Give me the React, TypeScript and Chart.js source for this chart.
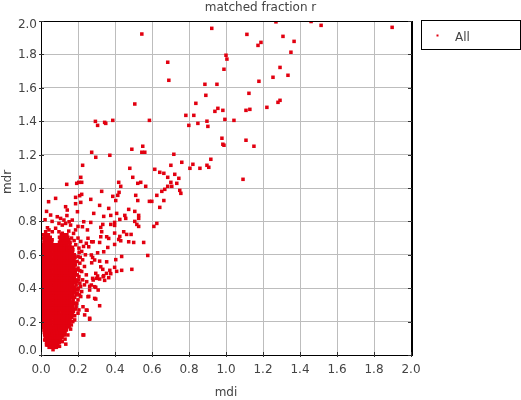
import React, { useEffect, useRef } from "react";
import { Chart, registerables } from "chart.js";

Chart.register(...registerables);

const chartTitle = "matched fraction r";
const xAxisTitle = "mdi";
const yAxisTitle = "mdr";
const seriesName = "All";
const xTickValues = [0, 0.2, 0.4, 0.6, 0.8, 1.0, 1.2, 1.4, 1.6, 1.8, 2.0];
const yTickValues = [0, 0.2, 0.4, 0.6, 0.8, 1.0, 1.2, 1.4, 1.6, 1.8, 2.0];

// sparse points with mdr above ~1.0
const upperPoints: [number, number][] = [
  [0.545, 1.922], [0.923, 1.956], [1.27, 1.995], [1.46, 1.997], [1.514, 1.974], [1.898, 1.962],
  [1.113, 1.92], [1.308, 1.908], [1.368, 1.878], [1.189, 1.872], [1.173, 1.854], [1.351, 1.813],
  [1.0, 1.795], [1.005, 1.772], [0.685, 1.753], [1.292, 1.722], [0.989, 1.711], [1.335, 1.675],
  [1.254, 1.663], [0.691, 1.645], [1.178, 1.639], [0.886, 1.621], [0.951, 1.621], [1.124, 1.567],
  [0.891, 1.555], [0.837, 1.507], [1.292, 1.525], [1.281, 1.513], [1.221, 1.483], [0.956, 1.477],
  [0.983, 1.465], [0.94, 1.459], [1.129, 1.471], [1.108, 1.465], [0.783, 1.435], [0.826, 1.435],
  [0.586, 1.405], [0.994, 1.411], [1.043, 1.405], [0.897, 1.4], [0.848, 1.387], [0.799, 1.375],
  [0.902, 1.369], [1.108, 1.286], [1.151, 1.25], [0.978, 1.298], [0.983, 1.262], [0.989, 1.256],
  [0.718, 1.202], [0.918, 1.172], [0.761, 1.154], [0.615, 1.112], [0.642, 1.094], [0.702, 1.136],
  [0.821, 1.142], [0.805, 1.118], [0.859, 1.118], [0.897, 1.136], [0.907, 1.124], [0.723, 1.082],
  [0.685, 1.064], [0.745, 1.058], [0.734, 1.028], [1.092, 1.052], [0.507, 1.503], [0.294, 1.399],
  [0.306, 1.375], [0.344, 1.393], [0.35, 1.387], [0.388, 1.405], [0.274, 1.214], [0.296, 1.184],
  [0.372, 1.196], [0.225, 1.136], [0.491, 1.232], [0.55, 1.25], [0.545, 1.214], [0.561, 1.214],
  [0.48, 1.118], [0.496, 1.064], [0.215, 1.064], [0.204, 1.034], [0.22, 1.034], [0.193, 1.028],
  [0.139, 1.022], [0.42, 1.034], [0.523, 1.028], [0.539, 1.034], [0.664, 1.088],
];

// sparse points between the core and mdr ~1.0
const middlePoints: [number, number][] = [
  [0.431, 1.01], [0.566, 1.01], [0.702, 1.034], [0.685, 1.01], [0.707, 1.01], [0.22, 0.962],
  [0.328, 0.98], [0.653, 0.98], [0.669, 0.992], [0.626, 0.956], [0.512, 0.956], [0.422, 0.974],
  [0.415, 0.956], [0.388, 0.95], [0.079, 0.938], [0.187, 0.944], [0.269, 0.932], [0.75, 0.986],
  [0.756, 0.968], [0.404, 0.925], [0.523, 0.925], [0.586, 0.92], [0.599, 0.92], [0.664, 0.925],
  [0.642, 0.884], [0.317, 0.896], [0.366, 0.878], [0.474, 0.872], [0.507, 0.86], [0.285, 0.848],
  [0.339, 0.83], [0.377, 0.836], [0.409, 0.848], [0.453, 0.836], [0.528, 0.836], [0.528, 0.818],
  [0.426, 0.812], [0.398, 0.794], [0.398, 0.776], [0.507, 0.8], [0.518, 0.782], [0.528, 0.77],
  [0.61, 0.77], [0.626, 0.788], [0.269, 0.794], [0.334, 0.782], [0.323, 0.764], [0.209, 0.954],
  [0.041, 0.918], [0.187, 0.906], [0.215, 0.914], [0.231, 0.798], [0.377, 0.782], [0.458, 0.818],
  [0.328, 0.738], [0.323, 0.708], [0.355, 0.708], [0.366, 0.698], [0.398, 0.73], [0.447, 0.738],
  [0.463, 0.722], [0.426, 0.71], [0.42, 0.692], [0.431, 0.684], [0.487, 0.722], [0.474, 0.678],
  [0.501, 0.674], [0.555, 0.674], [0.317, 0.674], [0.258, 0.648], [0.274, 0.678], [0.306, 0.612],
  [0.339, 0.618], [0.361, 0.644], [0.398, 0.662], [0.436, 0.59], [0.577, 0.596], [0.279, 0.584],
  [0.317, 0.562], [0.274, 0.552], [0.355, 0.558], [0.323, 0.528], [0.334, 0.513], [0.404, 0.571],
  [0.398, 0.525], [0.372, 0.507], [0.377, 0.487], [0.491, 0.513], [0.409, 0.501], [0.436, 0.507],
  [0.306, 0.473], [0.317, 0.455], [0.279, 0.459], [0.296, 0.489], [0.247, 0.439], [0.339, 0.475],
  [0.344, 0.447], [0.366, 0.463], [0.296, 0.405], [0.263, 0.411], [0.258, 0.351], [0.296, 0.335],
  [0.317, 0.295], [0.249, 0.268], [0.263, 0.214], [0.231, 0.12],
  [0.133, 0.888], [0.142, 0.868], [0.197, 0.858], [0.088, 0.828], [0.106, 0.818], [0.124, 0.808],
  [0.152, 0.798], [0.169, 0.808], [0.097, 0.788], [0.115, 0.778], [0.133, 0.788], [0.16, 0.778],
  [0.187, 0.749], [0.224, 0.768], [0.251, 0.749], [0.025, 0.738], [0.043, 0.749], [0.061, 0.738],
  [0.079, 0.759], [0.097, 0.738], [0.115, 0.729], [0.052, 0.838], [0.035, 0.762], [0.2, 0.77],
  [0.14, 0.835], [0.03, 0.86], [0.06, 0.8], [0.022, 0.81],
];

// points fringing the right side of the dense core
const fringePoints: [number, number][] = [
  [0.254, 0.699], [0.245, 0.669], [0.282, 0.678], [0.272, 0.599], [0.29, 0.569], [0.354, 0.489],
  [0.3, 0.459], [0.336, 0.469], [0.282, 0.449], [0.272, 0.419], [0.29, 0.409], [0.263, 0.389],
  [0.309, 0.389], [0.254, 0.349], [0.29, 0.339], [0.245, 0.269], [0.227, 0.289], [0.263, 0.22],
  [0.164, 0.18], [0.227, 0.12], [0.2, 0.25], [0.236, 0.24], [0.182, 0.31], [0.2, 0.7],
  [0.215, 0.68], [0.23, 0.65], [0.205, 0.64], [0.22, 0.62], [0.24, 0.6], [0.2, 0.59],
  [0.225, 0.57], [0.21, 0.55], [0.235, 0.53], [0.2, 0.52], [0.22, 0.5], [0.245, 0.48],
  [0.205, 0.47], [0.225, 0.45], [0.21, 0.43], [0.235, 0.42], [0.2, 0.4], [0.22, 0.38],
  [0.215, 0.35], [0.2, 0.33], [0.19, 0.29], [0.205, 0.27], [0.195, 0.56], [0.196, 0.48],
  [0.194, 0.44], [0.197, 0.37], [0.182, 0.21], [0.175, 0.26], [0.16, 0.155], [0.145, 0.12],
  [0.13, 0.095], [0.065, 0.032], [0.115, 0.08], [0.188, 0.66], [0.179, 0.685], [0.165, 0.7],
  [0.176, 0.728], [0.15, 0.742], [0.01, 0.7], [0.012, 0.72], [0.182, 0.235], [0.172, 0.2],
  [0.152, 0.172], [0.206, 0.615], [0.212, 0.585], [0.21, 0.505], [0.214, 0.41], [0.208, 0.36],
  [0.193, 0.31], [0.185, 0.275], [0.134, 0.065], [0.1, 0.052], [0.03, 0.06], [0.02, 0.09],
];

// dense core: each row is [mdr, mdi, mdi, ...]
const coreRows: number[][] = [
  [0.046, 0.044, 0.058, 0.072, 0.083],
  [0.06, 0.036, 0.05, 0.064, 0.078, 0.091],
  [0.075, 0.03, 0.044, 0.058, 0.072, 0.086, 0.099],
  [0.09, 0.026, 0.04, 0.054, 0.068, 0.082, 0.096, 0.106],
  [0.105, 0.023, 0.037, 0.051, 0.065, 0.079, 0.093, 0.107, 0.114],
  [0.12, 0.02, 0.034, 0.048, 0.062, 0.076, 0.09, 0.104, 0.118, 0.126],
  [0.135, 0.018, 0.032, 0.046, 0.06, 0.074, 0.088, 0.102, 0.116, 0.13],
  [0.15, 0.016, 0.03, 0.044, 0.058, 0.072, 0.086, 0.1, 0.114, 0.128, 0.137],
  [0.165, 0.014, 0.028, 0.042, 0.056, 0.07, 0.084, 0.098, 0.112, 0.126, 0.14],
  [0.18, 0.012, 0.026, 0.041, 0.055, 0.07, 0.084, 0.099, 0.113, 0.128, 0.142, 0.15],
  [0.195, 0.012, 0.026, 0.041, 0.055, 0.07, 0.084, 0.099, 0.113, 0.128, 0.142, 0.155],
  [0.21, 0.012, 0.026, 0.041, 0.055, 0.07, 0.084, 0.099, 0.113, 0.128, 0.142, 0.157],
  [0.225, 0.012, 0.026, 0.041, 0.055, 0.07, 0.084, 0.099, 0.113, 0.128, 0.142, 0.157, 0.166],
  [0.24, 0.012, 0.027, 0.041, 0.056, 0.07, 0.085, 0.099, 0.114, 0.128, 0.143, 0.157, 0.168],
  [0.255, 0.012, 0.026, 0.04, 0.055, 0.069, 0.084, 0.098, 0.113, 0.127, 0.142, 0.156, 0.168],
  [0.27, 0.012, 0.027, 0.041, 0.056, 0.07, 0.085, 0.099, 0.114, 0.128, 0.143, 0.157, 0.17],
  [0.285, 0.012, 0.026, 0.041, 0.055, 0.07, 0.084, 0.099, 0.113, 0.128, 0.142, 0.157, 0.171],
  [0.3, 0.012, 0.027, 0.041, 0.056, 0.07, 0.085, 0.099, 0.114, 0.128, 0.143, 0.157, 0.172],
  [0.315, 0.012, 0.026, 0.041, 0.055, 0.07, 0.084, 0.099, 0.113, 0.128, 0.142, 0.157, 0.172],
  [0.33, 0.012, 0.027, 0.041, 0.056, 0.07, 0.085, 0.099, 0.114, 0.128, 0.143, 0.157, 0.174],
  [0.345, 0.012, 0.026, 0.041, 0.055, 0.07, 0.084, 0.099, 0.113, 0.128, 0.142, 0.157, 0.171, 0.182],
  [0.36, 0.012, 0.027, 0.041, 0.056, 0.07, 0.085, 0.099, 0.114, 0.128, 0.143, 0.157, 0.172, 0.19],
  [0.375, 0.012, 0.026, 0.041, 0.055, 0.07, 0.084, 0.099, 0.113, 0.128, 0.142, 0.157, 0.171, 0.18],
  [0.39, 0.012, 0.027, 0.041, 0.056, 0.07, 0.085, 0.099, 0.114, 0.128, 0.143, 0.157, 0.172, 0.186, 0.2],
  [0.405, 0.012, 0.026, 0.041, 0.055, 0.07, 0.084, 0.099, 0.113, 0.128, 0.142, 0.157, 0.171, 0.183],
  [0.42, 0.012, 0.027, 0.041, 0.056, 0.07, 0.085, 0.099, 0.114, 0.128, 0.143, 0.157, 0.172, 0.19],
  [0.435, 0.012, 0.026, 0.041, 0.055, 0.07, 0.084, 0.099, 0.113, 0.128, 0.142, 0.157, 0.171, 0.184],
  [0.45, 0.012, 0.027, 0.041, 0.056, 0.07, 0.085, 0.099, 0.114, 0.128, 0.143, 0.157, 0.172, 0.186, 0.204],
  [0.465, 0.012, 0.026, 0.041, 0.055, 0.07, 0.084, 0.099, 0.113, 0.128, 0.142, 0.157, 0.171, 0.18],
  [0.48, 0.012, 0.027, 0.041, 0.056, 0.07, 0.085, 0.099, 0.114, 0.128, 0.143, 0.157, 0.172, 0.188],
  [0.495, 0.012, 0.026, 0.041, 0.055, 0.07, 0.084, 0.099, 0.113, 0.128, 0.142, 0.157, 0.171, 0.185],
  [0.51, 0.012, 0.027, 0.041, 0.056, 0.07, 0.085, 0.099, 0.114, 0.128, 0.143, 0.157, 0.172, 0.183, 0.198],
  [0.525, 0.012, 0.026, 0.041, 0.055, 0.07, 0.084, 0.099, 0.113, 0.128, 0.142, 0.157, 0.171, 0.179],
  [0.54, 0.012, 0.027, 0.041, 0.056, 0.07, 0.085, 0.099, 0.114, 0.128, 0.143, 0.157, 0.172, 0.186],
  [0.555, 0.012, 0.026, 0.041, 0.055, 0.07, 0.084, 0.099, 0.113, 0.128, 0.142, 0.157, 0.171, 0.181],
  [0.57, 0.013, 0.027, 0.041, 0.056, 0.07, 0.085, 0.099, 0.114, 0.128, 0.143, 0.157, 0.172, 0.179],
  [0.585, 0.013, 0.026, 0.041, 0.055, 0.07, 0.084, 0.099, 0.113, 0.128, 0.142, 0.157, 0.171, 0.184],
  [0.6, 0.013, 0.027, 0.041, 0.056, 0.07, 0.085, 0.099, 0.114, 0.128, 0.143, 0.157, 0.172, 0.18],
  [0.615, 0.014, 0.026, 0.041, 0.055, 0.07, 0.084, 0.099, 0.113, 0.128, 0.142, 0.157, 0.17],
  [0.63, 0.014, 0.028, 0.042, 0.056, 0.07, 0.084, 0.098, 0.112, 0.126, 0.14, 0.155, 0.172],
  [0.645, 0.014, 0.028, 0.042, 0.056, 0.07, 0.084, 0.098, 0.112, 0.126, 0.14, 0.155, 0.17],
  [0.66, 0.015, 0.029, 0.043, 0.057, 0.071, 0.085, 0.099, 0.113, 0.127, 0.141, 0.156],
  [0.675, 0.016, 0.03, 0.044, 0.058, 0.1, 0.114, 0.128, 0.142, 0.157],
  [0.69, 0.018, 0.032, 0.046, 0.06, 0.105, 0.12, 0.134, 0.15],
  [0.705, 0.02, 0.034, 0.05, 0.1, 0.115, 0.13, 0.145],
  [0.72, 0.024, 0.04, 0.11, 0.125, 0.14],
];

const pointColor = "rgb(226, 0, 16)";
const textColor = "#444444";
const gridColor = "#bdbdbd";
const fontFamily = '"DejaVu Sans", sans-serif';

const decorPlugin = {
  id: "decor",
  afterDraw(chart: any) {
    const { ctx, chartArea: a, scales } = chart;
    const xs = scales.x;
    const ys = scales.y;
    ctx.save();

    // plot outline
    ctx.strokeStyle = "#000";
    ctx.lineWidth = 1;
    ctx.strokeRect(a.left + 0.5, a.top + 0.5, a.right - a.left, a.bottom - a.top);
    ctx.beginPath();
    ctx.moveTo(a.right + 1.5, a.top);
    ctx.lineTo(a.right + 1.5, a.bottom + 1);
    ctx.stroke();

    // tick marks
    ctx.strokeStyle = "#333";
    ctx.beginPath();
    yTickValues.forEach((v) => {
      const py = Math.round(ys.getPixelForValue(v)) + 0.5;
      ctx.moveTo(a.left - 2, py);
      ctx.lineTo(a.left + 3, py);
      ctx.moveTo(a.right - 3, py);
      ctx.lineTo(a.right + 1, py);
    });
    xTickValues.forEach((v) => {
      const px = Math.round(xs.getPixelForValue(v)) + 0.5;
      ctx.moveTo(px, a.bottom - 3);
      ctx.lineTo(px, a.bottom + 2);
    });
    ctx.stroke();

    // tick labels
    ctx.font = `12px ${fontFamily}`;
    ctx.fillStyle = textColor;
    ctx.textBaseline = "alphabetic";
    ctx.textAlign = "right";
    yTickValues.forEach((v) => {
      let base = ys.getPixelForValue(v) + 4;
      base = Math.max(base, a.top + 7);
      base = Math.min(base, a.bottom - 1);
      ctx.fillText(v.toFixed(1), a.left - 4, base);
    });
    ctx.textAlign = "center";
    xTickValues.forEach((v) => {
      ctx.fillText(v.toFixed(1), xs.getPixelForValue(v), a.bottom + 18);
    });

    // title
    ctx.fillText(chartTitle, chart.width / 2, 11);

    // axis titles
    ctx.fillText(xAxisTitle, (a.left + a.right) / 2, 396);
    ctx.save();
    ctx.translate(11, 182);
    ctx.rotate(-Math.PI / 2);
    ctx.fillText(yAxisTitle, 0, 0);
    ctx.restore();

    // legend
    const lx = a.right + 10.5;
    const ly = a.top - 0.5;
    ctx.strokeStyle = "#000";
    ctx.strokeRect(lx, ly, 99, 29);
    ctx.fillStyle = pointColor;
    ctx.fillRect(lx + 15, ly + 14, 2, 2);
    ctx.fillStyle = textColor;
    ctx.textAlign = "left";
    ctx.fillText(chart.data.datasets[0].label, lx + 33.5, ly + 20);

    ctx.restore();
  },
};

export default function App() {
  const canvasRef = useRef<HTMLCanvasElement | null>(null);

  useEffect(() => {
    const canvas = canvasRef.current;
    if (!canvas) return;
    const points = [
      ...upperPoints.map(([x, y]) => ({ x, y })),
      ...middlePoints.map(([x, y]) => ({ x, y })),
      ...fringePoints.map(([x, y]) => ({ x, y })),
      ...coreRows.flatMap(([y, ...xs]) => xs.map((x) => ({ x, y }))),
    ];
    const chart = new Chart(canvas, {
      type: "scatter",
      data: {
        datasets: [
          {
            label: seriesName,
            data: points,
            backgroundColor: pointColor,
            borderWidth: 0,
            pointStyle: "rect",
            pointRadius: 2.5,
            pointHoverRadius: 2.5,
          },
        ],
      },
      options: {
        responsive: false,
        animation: false,
        events: [],
        layout: { padding: { top: 21, right: 110, left: 0, bottom: 0 } },
        plugins: { legend: { display: false }, title: { display: false }, tooltip: { enabled: false } },
        scales: {
          x: {
            type: "linear",
            min: 0,
            max: 2,
            afterBuildTicks: (scale: any) => {
              scale.ticks = xTickValues.map((v) => ({ value: v }));
            },
            afterFit: (scale: any) => {
              scale.height = 45;
            },
            ticks: { display: false },
            grid: { color: gridColor, lineWidth: 1, drawTicks: false },
            border: { display: false },
          },
          y: {
            type: "linear",
            min: 0,
            max: 2,
            afterBuildTicks: (scale: any) => {
              scale.ticks = yTickValues.map((v) => ({ value: v }));
            },
            afterFit: (scale: any) => {
              scale.width = 41;
            },
            ticks: { display: false },
            grid: { color: gridColor, lineWidth: 1, drawTicks: false },
            border: { display: false },
          },
        },
      },
      plugins: [decorPlugin],
    });
    return () => chart.destroy();
  }, []);

  return (
    <div style={{ position: "absolute", left: 0, top: 0, width: 521, height: 400, background: "#fff" }}>
      <canvas ref={canvasRef} width={521} height={400} style={{ display: "block" }} />
    </div>
  );
}
